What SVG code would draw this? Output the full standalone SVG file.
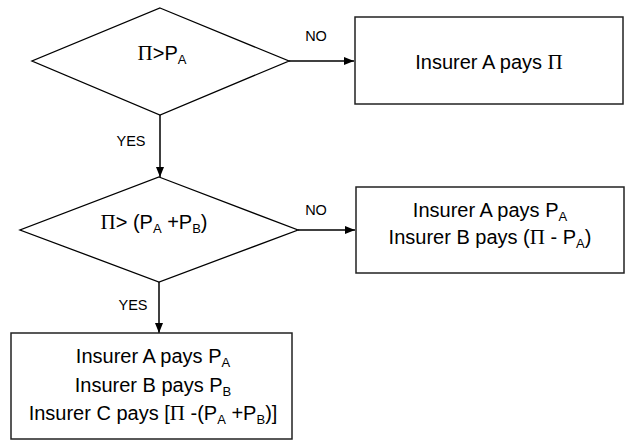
<svg xmlns="http://www.w3.org/2000/svg" width="625" height="442" viewBox="0 0 625 442">
<style>
.shape{fill:#fff;stroke:#000;stroke-width:1.3}
.box{fill:#fff;stroke:#222;stroke-width:1.5}
.conn{fill:none;stroke:#000;stroke-width:1.5}
.t{font-family:"Liberation Sans",Arial,sans-serif;font-size:20px;fill:#000;text-anchor:middle}
.lbl{font-family:"Liberation Sans",Arial,sans-serif;font-size:14.5px;fill:#000;text-anchor:middle}
.pi{font-family:"Liberation Serif","Times New Roman",serif;font-size:21px}
.sub{font-size:13px}
</style>
<defs>
<marker id="arr" markerWidth="11" markerHeight="9" refX="10" refY="4" orient="auto" markerUnits="userSpaceOnUse">
<path d="M0,0 L10,4 L0,8 z" fill="#000"/>
</marker>
</defs>
<g id="connectors">
<line class="conn" x1="289" y1="61" x2="354" y2="61" marker-end="url(#arr)"/>
<line class="conn" x1="160" y1="115" x2="160" y2="177" marker-end="url(#arr)"/>
<line class="conn" x1="298" y1="230" x2="355" y2="230" marker-end="url(#arr)"/>
<line class="conn" x1="159" y1="282" x2="159" y2="333" marker-end="url(#arr)"/>
<text class="lbl" x="316" y="41">NO</text>
<text class="lbl" x="131" y="146">YES</text>
<text class="lbl" x="316" y="215">NO</text>
<text class="lbl" x="133" y="310">YES</text>
</g>
<g id="decision1">
<polygon class="shape" points="160,8 289,61 160,115 32,61"/>
<text class="t" x="162" y="60"><tspan class="pi">Π</tspan>&gt;P<tspan class="sub" dy="4">A</tspan></text>
</g>
<g id="decision2">
<polygon class="shape" points="159,177 298,230 159,282 20,230"/>
<text class="t" x="154" y="229"><tspan class="pi">Π</tspan>&gt; (P<tspan class="sub" dy="4">A</tspan><tspan dy="-4"> +P</tspan><tspan class="sub" dy="4">B</tspan><tspan dy="-4">)</tspan></text>
</g>
<g id="box1">
<rect class="box" x="355" y="17" width="268" height="87"/>
<text class="t" x="489" y="69">Insurer A pays <tspan class="pi">Π</tspan></text>
</g>
<g id="box2">
<rect class="box" x="356" y="187" width="268" height="86"/>
<text class="t" x="490" y="217">Insurer A pays P<tspan class="sub" dy="4">A</tspan></text>
<text class="t" x="490" y="244">Insurer B pays (<tspan class="pi">Π</tspan> - P<tspan class="sub" dy="4">A</tspan><tspan dy="-4">)</tspan></text>
</g>
<g id="box3">
<rect class="box" x="11" y="333" width="281" height="106"/>
<text class="t" x="153" y="363">Insurer A pays P<tspan class="sub" dy="4">A</tspan></text>
<text class="t" x="153" y="392">Insurer B pays P<tspan class="sub" dy="4">B</tspan></text>
<text class="t" x="153" y="420">Insurer C pays [<tspan class="pi">Π</tspan> -(P<tspan class="sub" dy="4">A</tspan><tspan dy="-4"> +P</tspan><tspan class="sub" dy="4">B</tspan><tspan dy="-4">)]</tspan></text>
</g>
</svg>
